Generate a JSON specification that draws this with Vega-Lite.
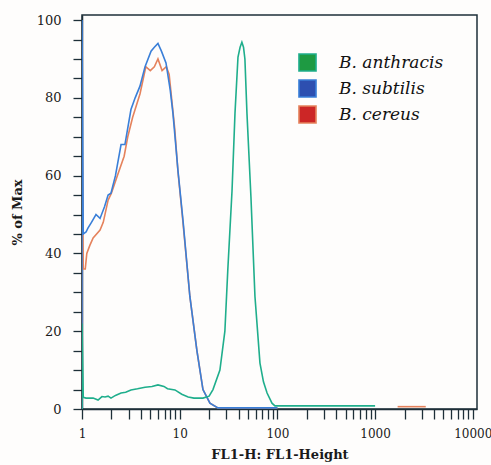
{
  "$schema": "https://vega.github.io/schema/vega-lite/v6.json",
  "autosize": {"type": "none"},
  "padding": {"left": 82, "top": 15, "right": 14, "bottom": 56},
  "width": 395,
  "height": 394,
  "background": "#fefdfc",
  "config": {
    "view": {"stroke": "#1e2f38", "strokeWidth": 1.5},
    "axis": {
      "labelFont": "DejaVu Serif", "labelFontSize": 13, "labelColor": "#1a1a1a",
      "titleFont": "DejaVu Serif", "titleFontSize": 13, "titleFontWeight": "bold", "titleColor": "#1a1a1a",
      "domainColor": "#1e2f38", "domainWidth": 1.5, "tickColor": "#1e2f38", "tickWidth": 1.3, "grid": false
    }
  },
  "datasets": {
    "hist": [
      {"s": "B. cereus", "g": "a", "x": 1, "y": 0},
      {"s": "B. cereus", "g": "a", "x": 1, "y": 72},
      {"s": "B. cereus", "g": "a", "x": 1.03, "y": 36},
      {"s": "B. cereus", "g": "a", "x": 1.08, "y": 36},
      {"s": "B. cereus", "g": "a", "x": 1.12, "y": 40},
      {"s": "B. cereus", "g": "a", "x": 1.2, "y": 42},
      {"s": "B. cereus", "g": "a", "x": 1.3, "y": 44},
      {"s": "B. cereus", "g": "a", "x": 1.53, "y": 46},
      {"s": "B. cereus", "g": "a", "x": 1.65, "y": 48},
      {"s": "B. cereus", "g": "a", "x": 1.85, "y": 53.7},
      {"s": "B. cereus", "g": "a", "x": 2.0, "y": 55.5},
      {"s": "B. cereus", "g": "a", "x": 2.3, "y": 60},
      {"s": "B. cereus", "g": "a", "x": 2.7, "y": 65},
      {"s": "B. cereus", "g": "a", "x": 2.94, "y": 70},
      {"s": "B. cereus", "g": "a", "x": 3.3, "y": 75},
      {"s": "B. cereus", "g": "a", "x": 3.92, "y": 81},
      {"s": "B. cereus", "g": "a", "x": 4.5, "y": 88},
      {"s": "B. cereus", "g": "a", "x": 5.0, "y": 87},
      {"s": "B. cereus", "g": "a", "x": 5.5, "y": 88},
      {"s": "B. cereus", "g": "a", "x": 5.99, "y": 90},
      {"s": "B. cereus", "g": "a", "x": 6.6, "y": 87},
      {"s": "B. cereus", "g": "a", "x": 7.3, "y": 88},
      {"s": "B. cereus", "g": "a", "x": 7.8, "y": 86},
      {"s": "B. cereus", "g": "a", "x": 8.9, "y": 72},
      {"s": "B. cereus", "g": "a", "x": 9.6, "y": 61},
      {"s": "B. cereus", "g": "a", "x": 10.8, "y": 48},
      {"s": "B. cereus", "g": "a", "x": 12.7, "y": 29},
      {"s": "B. cereus", "g": "a", "x": 15, "y": 15},
      {"s": "B. cereus", "g": "a", "x": 17.3, "y": 5},
      {"s": "B. cereus", "g": "a", "x": 20.4, "y": 1.5},
      {"s": "B. cereus", "g": "a", "x": 24.6, "y": 0.3},
      {"s": "B. cereus", "g": "a", "x": 100, "y": 0.3},
      {"s": "B. cereus", "g": "b", "x": 1700, "y": 0.6},
      {"s": "B. cereus", "g": "b", "x": 3300, "y": 0.6},
      {"s": "B. subtilis", "g": "a", "x": 1, "y": 0},
      {"s": "B. subtilis", "g": "a", "x": 1, "y": 100},
      {"s": "B. subtilis", "g": "a", "x": 1.03, "y": 45},
      {"s": "B. subtilis", "g": "a", "x": 1.1, "y": 45.5},
      {"s": "B. subtilis", "g": "a", "x": 1.15, "y": 46.5},
      {"s": "B. subtilis", "g": "a", "x": 1.25, "y": 48},
      {"s": "B. subtilis", "g": "a", "x": 1.39, "y": 50},
      {"s": "B. subtilis", "g": "a", "x": 1.53, "y": 49},
      {"s": "B. subtilis", "g": "a", "x": 1.7, "y": 52},
      {"s": "B. subtilis", "g": "a", "x": 1.85, "y": 55},
      {"s": "B. subtilis", "g": "a", "x": 1.98, "y": 55.5},
      {"s": "B. subtilis", "g": "a", "x": 2.2, "y": 60},
      {"s": "B. subtilis", "g": "a", "x": 2.51, "y": 68},
      {"s": "B. subtilis", "g": "a", "x": 2.75, "y": 68},
      {"s": "B. subtilis", "g": "a", "x": 3.17, "y": 77},
      {"s": "B. subtilis", "g": "a", "x": 3.5, "y": 80},
      {"s": "B. subtilis", "g": "a", "x": 3.92, "y": 83},
      {"s": "B. subtilis", "g": "a", "x": 4.42, "y": 88},
      {"s": "B. subtilis", "g": "a", "x": 5.09, "y": 92},
      {"s": "B. subtilis", "g": "a", "x": 5.5, "y": 93},
      {"s": "B. subtilis", "g": "a", "x": 5.99, "y": 94},
      {"s": "B. subtilis", "g": "a", "x": 6.5, "y": 92},
      {"s": "B. subtilis", "g": "a", "x": 7.24, "y": 89},
      {"s": "B. subtilis", "g": "a", "x": 8.0, "y": 82},
      {"s": "B. subtilis", "g": "a", "x": 8.53, "y": 76},
      {"s": "B. subtilis", "g": "a", "x": 9.59, "y": 61.4},
      {"s": "B. subtilis", "g": "a", "x": 10.8, "y": 48.6},
      {"s": "B. subtilis", "g": "a", "x": 12.7, "y": 29},
      {"s": "B. subtilis", "g": "a", "x": 15, "y": 15},
      {"s": "B. subtilis", "g": "a", "x": 17.3, "y": 5},
      {"s": "B. subtilis", "g": "a", "x": 20.4, "y": 1.5},
      {"s": "B. subtilis", "g": "a", "x": 24.6, "y": 0.3},
      {"s": "B. subtilis", "g": "a", "x": 100, "y": 0.3},
      {"s": "B. anthracis", "g": "a", "x": 1, "y": 0},
      {"s": "B. anthracis", "g": "a", "x": 1, "y": 22},
      {"s": "B. anthracis", "g": "a", "x": 1.03, "y": 3},
      {"s": "B. anthracis", "g": "a", "x": 1.1, "y": 2.8},
      {"s": "B. anthracis", "g": "a", "x": 1.3, "y": 2.8},
      {"s": "B. anthracis", "g": "a", "x": 1.46, "y": 2.3},
      {"s": "B. anthracis", "g": "a", "x": 1.6, "y": 3.2},
      {"s": "B. anthracis", "g": "a", "x": 1.72, "y": 3.1},
      {"s": "B. anthracis", "g": "a", "x": 1.85, "y": 3.3},
      {"s": "B. anthracis", "g": "a", "x": 1.98, "y": 2.8},
      {"s": "B. anthracis", "g": "a", "x": 2.2, "y": 3.5},
      {"s": "B. anthracis", "g": "a", "x": 2.51, "y": 4.1},
      {"s": "B. anthracis", "g": "a", "x": 2.8, "y": 4.3},
      {"s": "B. anthracis", "g": "a", "x": 3.17, "y": 4.9},
      {"s": "B. anthracis", "g": "a", "x": 3.7, "y": 5.2},
      {"s": "B. anthracis", "g": "a", "x": 4.42, "y": 5.6},
      {"s": "B. anthracis", "g": "a", "x": 5.2, "y": 5.8},
      {"s": "B. anthracis", "g": "a", "x": 5.99, "y": 6.2},
      {"s": "B. anthracis", "g": "a", "x": 6.9, "y": 5.8},
      {"s": "B. anthracis", "g": "a", "x": 7.5, "y": 5.2},
      {"s": "B. anthracis", "g": "a", "x": 8.94, "y": 4.9},
      {"s": "B. anthracis", "g": "a", "x": 10.5, "y": 3.8},
      {"s": "B. anthracis", "g": "a", "x": 12.2, "y": 3.1},
      {"s": "B. anthracis", "g": "a", "x": 14, "y": 2.8},
      {"s": "B. anthracis", "g": "a", "x": 17.3, "y": 2.8},
      {"s": "B. anthracis", "g": "a", "x": 20, "y": 3.3},
      {"s": "B. anthracis", "g": "a", "x": 21.9, "y": 5},
      {"s": "B. anthracis", "g": "a", "x": 25.8, "y": 10},
      {"s": "B. anthracis", "g": "a", "x": 29, "y": 20},
      {"s": "B. anthracis", "g": "a", "x": 31.1, "y": 36},
      {"s": "B. anthracis", "g": "a", "x": 34.3, "y": 56},
      {"s": "B. anthracis", "g": "a", "x": 36.8, "y": 76},
      {"s": "B. anthracis", "g": "a", "x": 39.5, "y": 90.5},
      {"s": "B. anthracis", "g": "a", "x": 41.5, "y": 93},
      {"s": "B. anthracis", "g": "a", "x": 43.3, "y": 94.3},
      {"s": "B. anthracis", "g": "a", "x": 45, "y": 93},
      {"s": "B. anthracis", "g": "a", "x": 46.5, "y": 90},
      {"s": "B. anthracis", "g": "a", "x": 48.8, "y": 76},
      {"s": "B. anthracis", "g": "a", "x": 53.6, "y": 54.5},
      {"s": "B. anthracis", "g": "a", "x": 58.9, "y": 29},
      {"s": "B. anthracis", "g": "a", "x": 66.3, "y": 11.8},
      {"s": "B. anthracis", "g": "a", "x": 72, "y": 7},
      {"s": "B. anthracis", "g": "a", "x": 78.4, "y": 4.1},
      {"s": "B. anthracis", "g": "a", "x": 88, "y": 1.5},
      {"s": "B. anthracis", "g": "a", "x": 94.4, "y": 0.8},
      {"s": "B. anthracis", "g": "a", "x": 1000, "y": 0.8}
    ]
  },
  "data": {"name": "hist"},
  "mark": {"type": "line", "clip": true},
  "encoding": {
    "x": {
      "field": "x", "type": "quantitative",
      "scale": {"type": "log", "domain": [1, 11040], "nice": false},
      "axis": {
        "title": "FL1-H: FL1-Height",
        "values": [1,2,3,4,5,6,7,8,9,10,20,30,40,50,60,70,80,90,100,200,300,400,500,600,700,800,900,1000,2000,3000,4000,5000,6000,7000,8000,9000,10000],
        "labelExpr": "indexof([1,10,100,1000,10000], datum.value) >= 0 ? datum.label : ''",
        "format": "d",
        "labelFontSize": 12,
        "tickSize": 10,
        "encode": {"ticks": {"update": {"y2": {"signal": "indexof([1,10,100,1000,10000], datum.value) >= 0 ? 10 : 5"}}}},
        "labelPadding": 9,
        "titlePadding": 9,
        "labelFlush": false,
        "labelOverlap": false
      }
    },
    "y": {
      "field": "y", "type": "quantitative",
      "scale": {"domain": [0, 101.3], "nice": false},
      "axis": {
        "title": "% of Max",
        "values": [0,5,10,15,20,25,30,35,40,45,50,55,60,65,70,75,80,85,90,95,100],
        "labelExpr": "datum.value % 20 == 0 ? datum.label : ''",
        "tickSize": 9,
        "encode": {"ticks": {"update": {"x2": {"signal": "datum.value % 20 == 0 ? -9 : -5"}}}},
        "labelPadding": 12,
        "titlePadding": 12
      }
    },
    "color": {
      "field": "s", "type": "nominal",
      "scale": {"domain": ["B. anthracis", "B. subtilis", "B. cereus"], "range": ["#1fae8c", "#3a7fd8", "#e5825c"]},
      "legend": {
        "title": null, "orient": "none", "legendX": 216, "legendY": 38,
        "symbolType": "square", "symbolSize": 290, "symbolStrokeWidth": 1.5, "symbolStrokeColor": "#111111",
        "labelFont": "DejaVu Serif", "labelFontStyle": "italic", "labelFontSize": 17, "labelColor": "#111111",
        "labelOffset": 22, "rowPadding": 1, "padding": 0,
        "encode": {"symbols": {"update": {
          "fill": {"signal": "datum.value == 'B. anthracis' ? '#1e9a42' : datum.value == 'B. subtilis' ? '#2d4fb0' : '#cc2626'"},
          "stroke": {"value": "#111111"},
          "strokeWidth": {"value": 1.5},
          "fillOpacity": {"value": 1},
          "opacity": {"value": 1}
        }}}
      }
    },
    "strokeWidth": {
      "field": "s", "type": "nominal",
      "scale": {"domain": ["B. anthracis", "B. subtilis", "B. cereus"], "range": [1.6, 1.6, 2.3]},
      "legend": null
    },
    "detail": {"field": "g"},
    "order": {"value": null}
  }
}
